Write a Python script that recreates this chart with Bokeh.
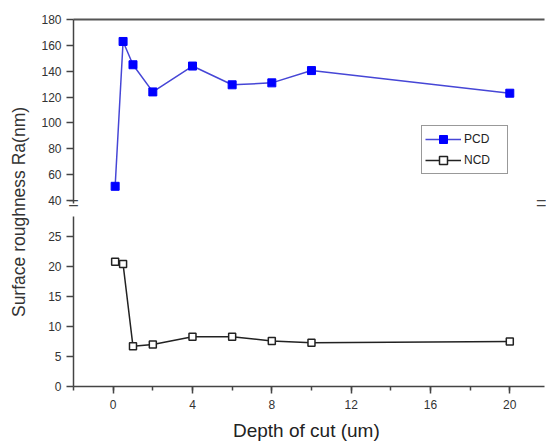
import math
from bokeh.plotting import figure
from bokeh.layouts import row, column
from bokeh.models import (LinearAxis, SingleIntervalTicker, FixedTicker, Range1d,
                          Legend, LegendItem, ColumnDataSource)
from bokeh.core.properties import value
from bokeh.embed import file_html
from bokeh.resources import INLINE

# ---- data ----
depth_um = [0.1, 0.5, 1, 2, 4, 6, 8, 10, 20]
ra_pcd = [51, 163, 145, 124, 144, 129.5, 131, 140.5, 123]
ra_ncd = [20.8, 20.4, 6.7, 7.0, 8.3, 8.3, 7.6, 7.3, 7.5]
x_label = "Depth of cut  (um)"
y_label = "Surface roughness Ra(nm)"
series_names = ["PCD", "NCD"]

FONT = "Liberation Sans"
AX = "#444444"
TXT = "#333333"

X_START, X_END = -2, 21.75
UP_LO, UP_HI = 37.7, 180
LO_LO, LO_HI = 0, 28.33

x_rng = Range1d(X_START, X_END)
src = ColumnDataSource(dict(x=depth_um, pcd=ra_pcd, ncd=ra_ncd))


def style_axis(ax):
    ax.axis_line_color = AX
    ax.axis_line_width = 1.5
    ax.major_tick_line_color = AX
    ax.major_tick_line_width = 1.5
    ax.minor_tick_line_color = AX
    ax.minor_tick_line_width = 1.5
    ax.major_tick_out = 7
    ax.major_tick_in = 0
    ax.minor_tick_out = 4
    ax.minor_tick_in = 0
    ax.major_label_text_font = FONT
    ax.major_label_text_font_size = "12px"
    ax.major_label_text_color = TXT
    ax.major_label_standoff = 5


# ---- upper panel (PCD) ----
up = figure(width=516, height=216, x_range=x_rng, y_range=Range1d(UP_LO, UP_HI),
            x_axis_type=None, y_axis_type=None,
            output_backend="svg", toolbar_location=None,
            min_border_left=43, min_border_right=2, min_border_top=19,
            min_border_bottom=13)
up.outline_line_color = None
yax_up = LinearAxis(ticker=SingleIntervalTicker(interval=20, num_minor_ticks=0))
style_axis(yax_up)
up.add_layout(yax_up, "left")
top_ax = LinearAxis(ticker=FixedTicker(ticks=[]))
top_ax.axis_line_color = "#555555"
top_ax.axis_line_width = 2
top_ax.major_tick_line_color = None
top_ax.minor_tick_line_color = None
top_ax.major_label_standoff = 0
up.add_layout(top_ax, "above")

# axis-break marks at both ends of the broken y axis
brk_ax = LinearAxis(ticker=FixedTicker(ticks=[X_START, X_END]),
                    major_label_overrides={X_START: "=", X_END: "="})
brk_ax.axis_line_color = None
brk_ax.major_tick_line_color = None
brk_ax.minor_tick_line_color = None
brk_ax.major_tick_out = 0
brk_ax.major_tick_in = 0
brk_ax.major_label_standoff = -11
brk_ax.major_label_text_font = FONT
brk_ax.major_label_text_font_size = "18px"
brk_ax.major_label_text_color = AX
up.add_layout(brk_ax, "below")

for g in up.grid:
    g.visible = False

l_pcd = up.line("x", "pcd", source=src, line_color="#4646d6", line_width=1.5)
s_pcd = up.scatter("x", "pcd", source=src, marker="square", size=8,
                   fill_color="#0000ff", line_color="#0000ff")
# NCD series also registered here (its values lie below this panel's range,
# so nothing shows) so that the shared legend can draw its key
l_ncd_key = up.line("x", "ncd", source=src, line_color="#222222", line_width=1.5)
s_ncd_key = up.scatter("x", "ncd", source=src, marker="square", size=7,
                       fill_color="white", line_color="#222222", line_width=1.5)

# ---- lower panel (NCD) ----
lo = figure(width=516, height=229, x_range=x_rng, y_range=Range1d(LO_LO, LO_HI),
            x_axis_type=None, y_axis_type=None,
            output_backend="svg", toolbar_location=None,
            min_border_left=43, min_border_right=2, min_border_top=0,
            min_border_bottom=59)
lo.outline_line_color = None
yax_lo = LinearAxis(ticker=SingleIntervalTicker(interval=5, num_minor_ticks=0))
style_axis(yax_lo)
lo.add_layout(yax_lo, "left")
xax = LinearAxis(ticker=SingleIntervalTicker(interval=4, num_minor_ticks=2),
                 axis_label=x_label)
style_axis(xax)
xax.major_label_standoff = 6
xax.axis_label_text_font = FONT
xax.axis_label_text_font_size = "19px"
xax.axis_label_text_font_style = "normal"
xax.axis_label_text_color = "#222222"
xax.axis_label_standoff = 8
lo.add_layout(xax, "below")
for g in lo.grid:
    g.visible = False

lo.line("x", "ncd", source=src, line_color="#222222", line_width=1.5)
lo.scatter("x", "ncd", source=src, marker="square", size=7,
           fill_color="white", line_color="#222222", line_width=1.5)

# legend (in upper panel)
leg = Legend(items=[LegendItem(label=series_names[0], renderers=[l_pcd, s_pcd]),
                    LegendItem(label=series_names[1], renderers=[l_ncd_key, s_ncd_key])],
             location=(348, 29), orientation="vertical",
             glyph_width=36, glyph_height=20, label_height=20, label_width=40,
             label_standoff=3, spacing=1, padding=3, margin=0,
             border_line_color="#333333", border_line_width=1.2,
             background_fill_color="white", background_fill_alpha=1,
             label_text_font=FONT, label_text_font_size="12px",
             label_text_color="#222222")
up.add_layout(leg, "center")

# ---- y label strip ----
lab = figure(width=30, height=445, x_range=Range1d(0, 30), y_range=Range1d(0, 445),
             x_axis_type=None, y_axis_type=None, output_backend="svg",
             toolbar_location=None, min_border=0)
lab.outline_line_color = None
for g in lab.grid:
    g.visible = False
lab.text(x=[18], y=[233.5], text=[y_label], angle=math.pi / 2,
         text_align="center", text_baseline="middle",
         text_font=value(FONT), text_font_size="17.5px", text_color="#333333")

layout = row(lab, column(up, lo))
open("out.html", "w").write(file_html(layout, INLINE))
